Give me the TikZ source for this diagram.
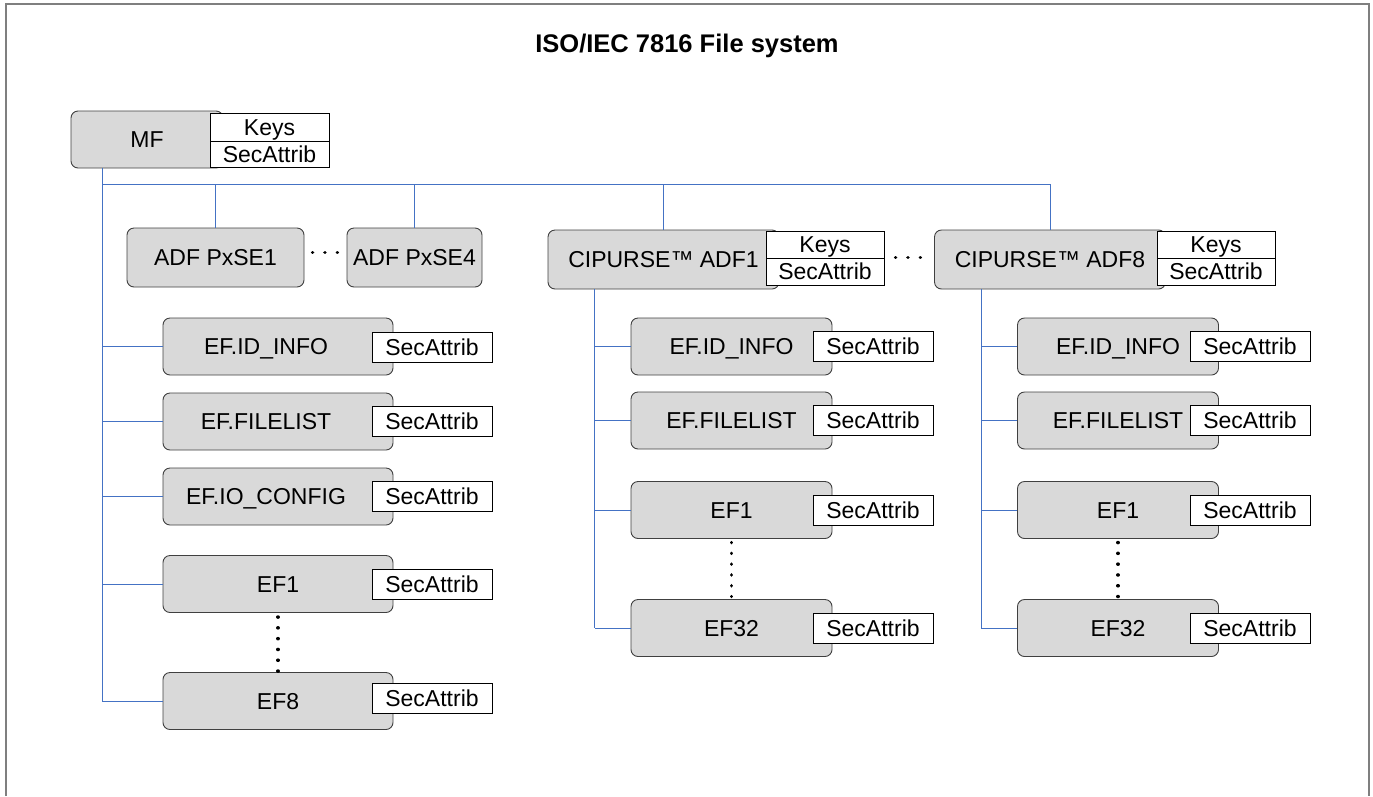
\documentclass[tikz,border=0pt]{standalone}
\usepackage{fontspec}
\setmainfont{Liberation Sans}
\usetikzlibrary{positioning}
\definecolor{fsBlue}{RGB}{68,114,196}
\definecolor{fsGrey}{RGB}{217,217,217}
\definecolor{fsEdge}{RGB}{64,64,64}
\definecolor{fsFrame}{RGB}{127,127,127}

\tikzset{
  dirbox/.style={draw=fsEdge, fill=fsGrey, rounded corners=7pt, line width=0.9pt,
                 minimum height=57pt, inner sep=0pt, text height=16.5pt, text depth=0pt},
  attrbox/.style={draw=black, fill=white, line width=0.9pt, minimum width=120pt,
                  minimum height=30pt, inner sep=0pt, text height=16.5pt, text depth=0pt},
  bus/.style={draw=fsBlue, line width=0.9pt},
  vdots/.style={line width=3.4pt, line cap=round, dash pattern=on 0.2pt off 10.6pt},
  hdots/.style={line width=3.4pt, line cap=round, dash pattern=on 0.2pt off 12.2pt},
}

\begin{document}
\begin{tikzpicture}[x=1pt, y=-1pt, font=\fontsize{23}{27}\selectfont]
\useasboundingbox (0,0) rectangle (1373,796);
\draw[fsFrame, line width=2pt] (6,796) |- (1369,4) -- (1369,796);
\node[font=\bfseries\fontsize{25.5}{30}\selectfont, anchor=base] (title) at (687,52)
     {ISO/IEC 7816 File system};

% Master file
\node[dirbox, minimum width=152pt] (mf) at (147,139.5) {MF};
\node[attrbox, minimum width=119pt, minimum height=28pt] (mfKeys) at (269.5,127) {Keys};
\node[attrbox, minimum width=119pt, minimum height=26pt] (mfSec) at (269.5,154) {SecAttrib};
\coordinate (mfTrunk) at (102,168);
\coordinate (busL) at (102,184);

\foreach \n/\y/\txt/\sy in {
   Id/346.5/{EF.ID\_INFO\kern24pt}/347,
   List/421.5/{EF.FILELIST\kern24pt}/421,
   Io/496.5/{EF.IO\_CONFIG\kern24pt}/496,
   One/584/EF1/584,
   Eight/701/EF8/698}
{
  \node[dirbox, minimum width=230pt] (mf\n) at (278,\y) {\txt};
  \node[attrbox] (mf\n Sec) at (432,\sy) {SecAttrib};
  \draw[bus] (mf\n.west) -- (mf\n.west -| mfTrunk);
}
\draw[bus] (mfTrunk) -- (mfEight.west -| mfTrunk);
\draw[vdots, shorten <=4pt, shorten >=0.5pt] (mfOne.south) -- (mfEight.north);

% PxSE applications
\node[dirbox, minimum width=177pt, minimum height=59pt] (pxse1) at (215.5,257.5) {ADF PxSE1};
\node[dirbox, minimum width=135pt, minimum height=59pt] (pxse4) at (414.5,257.5) {ADF PxSE4};
\draw[hdots, shorten <=8pt, shorten >=6pt] ([yshift=5pt]pxse1.east) -- ([yshift=5pt]pxse4.west);

% CIPURSE applications
\foreach \c/\ax/\tx/\sx/\name in {
   adfA/663.5/825/873/{CIPURSE™ ADF1},
   adfB/1050/1216/1250/{CIPURSE™ ADF8}}
{
  \node[dirbox, minimum width=231pt, minimum height=59pt] (\c) at (\ax,259.5) {\name};
  \node[attrbox, minimum width=118pt, minimum height=27pt] (\c Keys) at (\tx,244.5) {Keys};
  \node[attrbox, minimum width=118pt, minimum height=27pt] (\c Sec) at (\tx,271.5) {SecAttrib};
  \coordinate (\c Trunk) at (\ax-69,289);
  \foreach \r/\y/\txt in {Id/346.5/EF.ID\_INFO, List/420.5/EF.FILELIST, One/510/EF1, Last/628/EF32}
  {
    \node[dirbox, minimum width=201pt] (\c\r) at (\ax+68,\y) {\txt};
    \node[attrbox] (\c\r Sec) at (\sx,\y) {SecAttrib};
    \draw[bus] (\c\r.west) -- (\c\r.west -| \c Trunk);
  }
  \draw[bus] (\c Trunk) -- (\c Last.west -| \c Trunk);
  \draw[vdots, shorten <=3.5pt, shorten >=2.5pt] (\c One.south) -- (\c Last.north);
}
\draw[hdots, shorten <=11pt, shorten >=11pt] (adfASec.north east) -- (adfASec.north east -| adfB.west);

% Bus from MF
\draw[bus] (busL) -| (adfB.north);
\foreach \t in {pxse1, pxse4, adfA}
  \draw[bus] (\t.north) -- (\t.north |- busL);

\end{tikzpicture}
\end{document}
